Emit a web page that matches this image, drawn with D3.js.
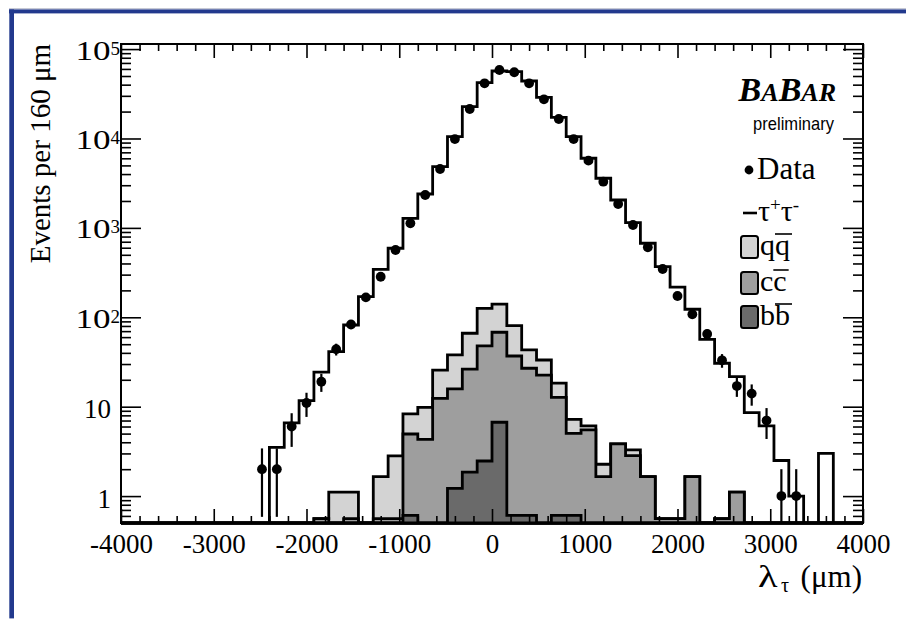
<!DOCTYPE html>
<html>
<head>
<meta charset="utf-8">
<script src="https://cdn.jsdelivr.net/npm/d3@7/dist/d3.min.js"></script>
<style>
  html, body { margin: 0; padding: 0; background: #ffffff; }
  svg { display: block; }
</style>
</head>
<body>
<svg id="chart" width="906" height="621"></svg>
<script>
// Histogram binning of the decay length (micrometres)
const binLow = -4000;
const binHigh = 4000;
const binWidth = 160;

// Events per bin, data (50 bins from -4000 to 4000 um)
const dataCounts = [
  0, 0, 0, 0, 0, 0, 0, 0, 0, 2,
  2, 6, 11, 19, 44, 83, 167, 284, 566, 1125,
  2334, 4560, 9860, 21380, 41430, 58360, 55080, 41430, 27430, 16520,
  9860, 5650, 3288, 1850, 1077, 607, 347, 173, 108, 65,
  33, 17, 14, 7, 1, 1, 0, 0, 0, 0
];

// tau+tau- simulation
const tauPairMC = [
  0, 0, 0, 0, 0, 0, 0, 0, 0, 0,
  3.5, 6.6, 11.7, 24.3, 41.2, 82, 170, 343, 592, 1280,
  2394, 4840, 10470, 22700, 42100, 56900, 56000, 43970, 28900, 17260,
  10470, 6010, 3590, 2051, 1143, 673, 368, 217, 123, 56.7,
  30.6, 21.7, 8.6, 6.1, 2.5, 1.0, 0, 3.0, 0, 0
];

// Hadronic backgrounds, stacked b-bbar, c-cbar, light q-qbar
const bbBar = [
  0, 0, 0, 0, 0, 0, 0, 0, 0, 0,
  0, 0, 0, 0, 0, 0, 0, 0, 0, 0.61,
  0, 0, 1.22, 1.85, 2.47, 6.7, 0.61, 0.61, 0, 0.61,
  0.61, 0, 0, 0, 0, 0, 0, 0, 0, 0,
  0, 0, 0, 0, 0, 0, 0, 0, 0, 0
];
const ccBar = [
  0, 0, 0, 0, 0, 0, 0, 0, 0, 0,
  0, 0, 0, 0.56, 0, 0.56, 0, 0.56, 0.56, 4.34,
  4.32, 12.4, 14.6, 24.4, 45.3, 61.3, 36.3, 26.3, 22.6, 12.1,
  4.43, 5.5, 1.65, 3.83, 2.83, 1.65, 0.56, 0.56, 1.65, 0,
  0.56, 1.11, 0, 0, 0, 0, 0, 0, 0, 0
];
const qqBar = [
  0, 0, 0, 0, 0, 0, 0, 0, 0, 0,
  0, 0, 0, 0, 1.11, 0.55, 0, 1.09, 2.25, 3.35,
  5.53, 13.3, 22.1, 40.0, 78.2, 72, 43.6, 16.2, 10.7, 5.6,
  2.16, 0.6, 0.62, 0, 0.45, 0, 0, 0, 0, 0,
  0, 0, 0, 0, 0, 0, 0, 0, 0, 0
];

// Axis ticks and labels
const xMajorTicks = [-4000, -3000, -2000, -1000, 0, 1000, 2000, 3000, 4000];
const xMinorStep = 200;
const yMajorTicks = [1, 10, 100, 1000, 10000, 100000];
const yTickBase = ["1", "10", "10", "10", "10", "10"];
const yTickExp = ["", "", "2", "3", "4", "5"];
const yMin = 0.5, yMax = 1.14e5;

const serif = "'Liberation Serif', 'Times New Roman', Times, serif";
const sans = "'Liberation Sans', Arial, Helvetica, sans-serif";
const colors = { qq: "#d3d3d3", cc: "#9e9e9e", bb: "#6a6a6a", frame: "#22398d" };
const histStroke = 2.8;

const svg = d3.select("#chart");
const W = 906, H = 621;
const plot = { left: 121, right: 863, top: 44, bottom: 523 };

// Page frame (blue bars at top and left)
svg.append("rect").attr("x", 9).attr("y", 8.2).attr("width", W - 9).attr("height", 1)
  .attr("fill", "#b9bccb");
svg.append("rect").attr("x", 9).attr("y", 9.4).attr("width", W - 9).attr("height", 4)
  .attr("fill", colors.frame);
svg.append("rect").attr("x", 9.3).attr("y", 9.4).attr("width", 4.7).attr("height", 609)
  .attr("fill", colors.frame);

const x = d3.scaleLinear().domain([binLow, binHigh]).range([plot.left, plot.right]);
const y = d3.scaleLog().domain([yMin, yMax]).range([plot.bottom, plot.top]);
const yFloor = y(yMin);
const nBins = dataCounts.length;
const edge = i => binLow + i * binWidth;

svg.append("defs").append("clipPath").attr("id", "plotClip")
  .append("rect").attr("x", plot.left - 2).attr("y", plot.top)
  .attr("width", plot.right - plot.left + 4).attr("height", plot.bottom - plot.top + 3);

const g = svg.append("g").attr("clip-path", "url(#plotClip)");

// Step outline points for a histogram
function stepPoints(values) {
  const pts = [];
  values.forEach((v, i) => {
    pts.push({ e: edge(i), v });
    pts.push({ e: edge(i + 1), v });
  });
  return pts;
}
const stepArea = d3.area()
  .x(d => x(d.e))
  .y0(yFloor)
  .y1(d => y(Math.max(d.v, yMin)));

// tau+tau- histogram outline
g.append("path")
  .attr("d", stepArea(stepPoints(tauPairMC)))
  .attr("fill", "#ffffff")
  .attr("stroke", "#000")
  .attr("stroke-width", histStroke)
  .attr("stroke-linejoin", "miter");

// Stacked backgrounds
const rows = d3.range(nBins).map(i => ({ bb: bbBar[i], cc: ccBar[i], qq: qqBar[i] }));
const stack = d3.stack().keys(["bb", "cc", "qq"])(rows);
stack.slice().reverse().forEach(layer => {
  const tops = layer.map(d => d[1]);
  g.append("path")
    .attr("d", stepArea(stepPoints(tops)))
    .attr("fill", colors[layer.key])
    .attr("stroke", "#000")
    .attr("stroke-width", histStroke)
    .attr("stroke-linejoin", "miter");
});

// Data with Poisson error bars
const dataPts = dataCounts.map((n, i) => ({ c: edge(i) + binWidth / 2, n }))
  .filter(d => d.n > 0);
g.selectAll("line.err").data(dataPts).join("line")
  .attr("class", "err")
  .attr("x1", d => x(d.c)).attr("x2", d => x(d.c))
  .attr("y1", d => y(d.n + Math.sqrt(d.n)))
  .attr("y2", d => { const lo = d.n - Math.sqrt(d.n); return lo > yMin ? y(lo) : yFloor; })
  .attr("stroke", "#000").attr("stroke-width", 2.2);
g.selectAll("circle.pt").data(dataPts).join("circle")
  .attr("class", "pt")
  .attr("cx", d => x(d.c)).attr("cy", d => y(d.n))
  .attr("r", 4.9).attr("fill", "#000");

// Axes (ticks pointing inward)
const xMinor = d3.range(binLow, binHigh + 1, xMinorStep).filter(v => !xMajorTicks.includes(v));
const yMinor = [];
for (let p = -1; p <= 4; p++) {
  for (let k = 2; k <= 9; k++) {
    const v = k * Math.pow(10, p);
    if (v > yMin && v < yMax) yMinor.push(v);
  }
}
function styleAxis(sel) {
  sel.select(".domain").remove();
  sel.selectAll(".tick line").attr("stroke", "#000").attr("stroke-width", 1.6);
}
const axB = svg.append("g").attr("transform", `translate(0,${plot.bottom})`)
  .call(d3.axisBottom(x).tickValues(xMajorTicks).tickSizeInner(-14).tickSizeOuter(0)
    .tickPadding(9).tickFormat(d => String(d)));
styleAxis(axB);
axB.selectAll(".tick text")
  .attr("font-family", serif).attr("font-size", 27).attr("fill", "#000")
  .attr("dy", "0.78em");
svg.append("g").attr("transform", `translate(0,${plot.bottom})`)
  .call(d3.axisBottom(x).tickValues(xMinor).tickSizeInner(-7).tickSizeOuter(0).tickFormat(""))
  .call(styleAxis);
svg.append("g").attr("transform", `translate(0,${plot.top})`)
  .call(d3.axisTop(x).tickValues(xMajorTicks).tickSizeInner(-14).tickSizeOuter(0).tickFormat(""))
  .call(styleAxis);
svg.append("g").attr("transform", `translate(0,${plot.top})`)
  .call(d3.axisTop(x).tickValues(xMinor).tickSizeInner(-7).tickSizeOuter(0).tickFormat(""))
  .call(styleAxis);
svg.append("g").attr("transform", `translate(${plot.left},0)`)
  .call(d3.axisLeft(y).tickValues(yMajorTicks).tickSizeInner(-20).tickSizeOuter(0).tickFormat(""))
  .call(styleAxis);
svg.append("g").attr("transform", `translate(${plot.left},0)`)
  .call(d3.axisLeft(y).tickValues(yMinor).tickSizeInner(-10).tickSizeOuter(0).tickFormat(""))
  .call(styleAxis);
svg.append("g").attr("transform", `translate(${plot.right},0)`)
  .call(d3.axisRight(y).tickValues(yMajorTicks).tickSizeInner(-20).tickSizeOuter(0).tickFormat(""))
  .call(styleAxis);
svg.append("g").attr("transform", `translate(${plot.right},0)`)
  .call(d3.axisRight(y).tickValues(yMinor).tickSizeInner(-10).tickSizeOuter(0).tickFormat(""))
  .call(styleAxis);

// Frame
svg.append("rect")
  .attr("x", plot.left).attr("y", plot.top)
  .attr("width", plot.right - plot.left).attr("height", plot.bottom - plot.top)
  .attr("fill", "none").attr("stroke", "#000").attr("stroke-width", 2);

// Y tick labels with powers of ten
const yLab = svg.append("g");
yMajorTicks.forEach((v, i) => {
  const ty = y(v) + 10.5;
  if (yTickExp[i]) {
    yLab.append("text")
      .attr("transform", `translate(110.5,${ty}) scale(1.3,1)`)
      .attr("text-anchor", "end")
      .attr("font-family", serif).attr("font-size", 27)
      .text(yTickBase[i]);
    yLab.append("text")
      .attr("x", 110.5).attr("y", ty - 5)
      .attr("font-family", serif).attr("font-size", 19)
      .text(yTickExp[i]);
  } else {
    yLab.append("text")
      .attr("x", 111).attr("y", ty + 1)
      .attr("text-anchor", "end")
      .attr("font-family", serif).attr("font-size", 27)
      .text(yTickBase[i]);
  }
});

// Axis titles
svg.append("text")
  .attr("transform", "translate(50,44) rotate(-90)")
  .attr("text-anchor", "end")
  .attr("font-family", serif).attr("font-size", 29)
  .text("Events per 160 \u03bcm");
svg.append("text")
  .attr("transform", "translate(758,587) scale(1.3,1)")
  .attr("font-family", serif).attr("font-size", 31).text("\u03bb");
svg.append("text").attr("x", 781).attr("y", 592)
  .attr("font-family", serif).attr("font-size", 20).text("\u03c4");
svg.append("text").attr("x", 862).attr("y", 587).attr("text-anchor", "end")
  .attr("font-family", serif).attr("font-size", 31).text("(\u03bcm)");

// Experiment label
const logo = svg.append("text")
  .attr("x", 836).attr("y", 101).attr("text-anchor", "end")
  .attr("font-family", serif).attr("font-weight", "bold").attr("font-style", "italic");
[["B", 34], ["A", 26], ["B", 34], ["AR", 26]].forEach(([t, s]) =>
  logo.append("tspan").attr("font-size", s).text(t));
svg.append("text")
  .attr("transform", "translate(834,130) scale(0.92,1)")
  .attr("text-anchor", "end")
  .attr("font-family", sans).attr("font-size", 18)
  .text("preliminary");

// Legend
const leg = svg.append("g").attr("font-family", serif);
leg.append("circle").attr("cx", 749).attr("cy", 170).attr("r", 4.4).attr("fill", "#000");
leg.append("text").attr("x", 757).attr("y", 179).attr("font-size", 31).text("Data");

leg.append("line").attr("x1", 743).attr("x2", 757).attr("y1", 213).attr("y2", 213)
  .attr("stroke", "#000").attr("stroke-width", 2.6);
const tt = leg.append("text").attr("x", 758).attr("y", 221).attr("font-size", 30);
tt.append("tspan").text("\u03c4");
tt.append("tspan").attr("font-size", 19).attr("dy", -10).text("+");
tt.append("tspan").attr("dy", 10).text("\u03c4");
tt.append("tspan").attr("font-size", 19).attr("dy", -10).text("-");

const legendRows = [
  { key: "qq", letter: "q", base: 255 },
  { key: "cc", letter: "c", base: 291 },
  { key: "bb", letter: "b", base: 325 }
];
legendRows.forEach(r => {
  leg.append("rect")
    .attr("x", 741).attr("y", r.base - 19).attr("width", 17).attr("height", 22)
    .attr("rx", 2.5).attr("fill", colors[r.key])
    .attr("stroke", "#000").attr("stroke-width", 2);
  const t1 = leg.append("text").attr("x", 760).attr("y", r.base).attr("font-size", 30).text(r.letter);
  const w = t1.node().getComputedTextLength();
  const t2 = leg.append("text").attr("x", 760 + w).attr("y", r.base).attr("font-size", 30).text(r.letter);
  const w2 = t2.node().getComputedTextLength();
  leg.append("line")
    .attr("x1", 760 + w).attr("x2", 760 + w + w2 + 2)
    .attr("y1", r.base - 21).attr("y2", r.base - 21)
    .attr("stroke", "#000").attr("stroke-width", 1.6);
});
</script>
</body>
</html>
